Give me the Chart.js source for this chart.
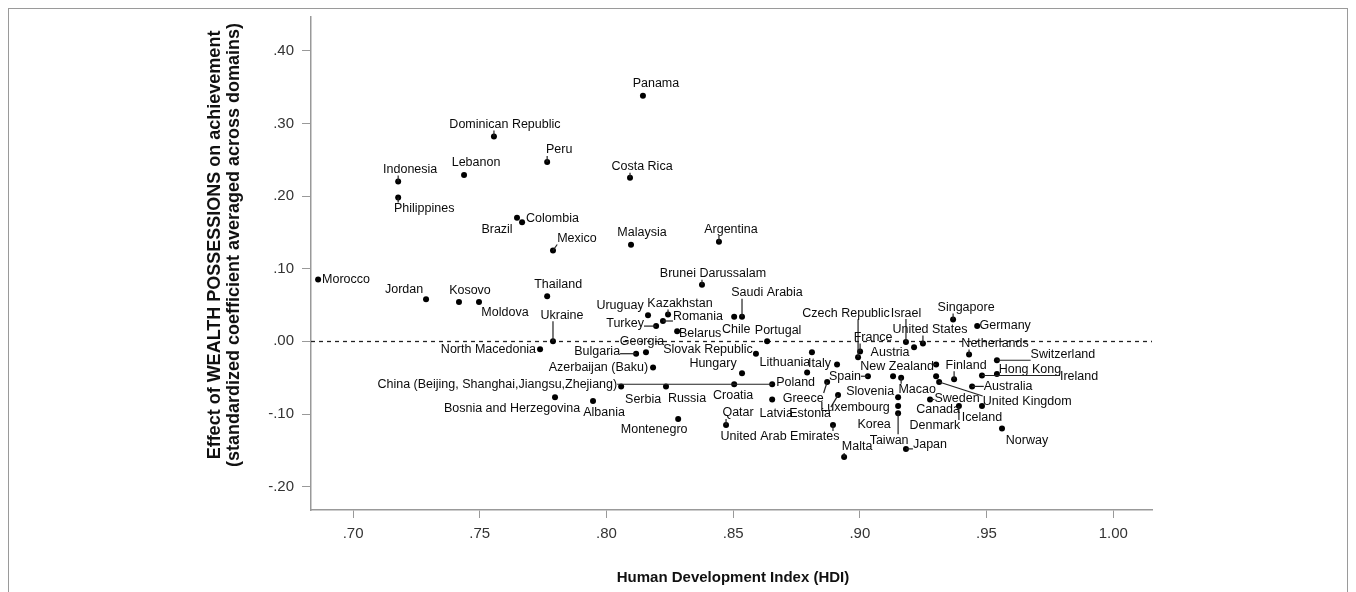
<!DOCTYPE html>
<html>
<head>
<meta charset="utf-8">
<script src="https://cdn.jsdelivr.net/npm/chart.js@4.4.0/dist/chart.umd.min.js"></script>
<style>
  html, body { margin: 0; padding: 0; background: #fff; }
  #wrap { position: relative; width: 1356px; height: 592px; }
</style>
</head>
<body>
<div id="wrap"><canvas id="ctx-hdi" width="1356" height="592"></canvas></div>
<script>
// values
const countries = [
  'Panama', 'Dominican Republic', 'Peru', 'Lebanon', 'Indonesia', 'Philippines',
  'Brazil', 'Colombia', 'Mexico', 'Costa Rica', 'Malaysia', 'Argentina',
  'Morocco', 'Jordan', 'Kosovo', 'Moldova', 'Thailand', 'Ukraine',
  'North Macedonia', 'Brunei Darussalam', 'Saudi Arabia', 'Chile', 'Uruguay', 'Kazakhstan',
  'Romania', 'Turkey', 'Belarus', 'Portugal', 'Georgia', 'Bulgaria',
  'Slovak Republic', 'Azerbaijan (Baku)', 'Hungary', 'Lithuania', 'Italy', 'Poland',
  'China (Beijing, Shanghai,Jiangsu,Zhejiang)', 'Serbia', 'Russia', 'Croatia', 'Bosnia and Herzegovina', 'Albania',
  'Montenegro', 'Qatar', 'Latvia', 'Greece', 'Estonia', 'United Arab Emirates',
  'Malta', 'Spain', 'Czech Republic', 'France', 'Israel', 'United States',
  'Austria', 'New Zealand', 'Slovenia', 'Macao', 'Luxembourg', 'Korea',
  'Canada', 'Sweden', 'Taiwan', 'Japan', 'Singapore', 'Germany',
  'Netherlands', 'Finland', 'Switzerland', 'Hong Kong', 'Ireland', 'Australia',
  'United Kingdom', 'Iceland', 'Denmark', 'Norway'
];
const hdi = [
  0.8144, 0.7556, 0.7766, 0.7438, 0.7178, 0.7178,
  0.7647, 0.7667, 0.7789, 0.8093, 0.8097, 0.8444,
  0.6862, 0.7288, 0.7418, 0.7497, 0.7766, 0.7789,
  0.7738, 0.8377, 0.8535, 0.8504, 0.8164, 0.8243,
  0.8223, 0.8196, 0.8279, 0.8634, 0.8156, 0.8117,
  0.8590, 0.8184, 0.8535, 0.8811, 0.8910, 0.8792,
  0.8654, 0.8058, 0.8235, 0.8504, 0.7797, 0.7947,
  0.8283, 0.8472, 0.8654, 0.8871, 0.8914, 0.8894,
  0.8938, 0.9032, 0.8993, 0.9001, 0.9182, 0.9249,
  0.9214, 0.9301, 0.9151, 0.9163, 0.9131, 0.9151,
  0.9301, 0.9277, 0.9151, 0.9182, 0.9368, 0.9463,
  0.9431, 0.9372, 0.9541, 0.9541, 0.9482, 0.9443,
  0.9313, 0.9482, 0.9391, 0.9561
];
const wealthEffect = [
  0.338, 0.282, 0.247, 0.229, 0.220, 0.198,
  0.170, 0.164, 0.125, 0.225, 0.133, 0.137,
  0.085, 0.058, 0.054, 0.054, 0.062, 0.000,
  -0.011, 0.078, 0.034, 0.034, 0.036, 0.037,
  0.028, 0.021, 0.014, 0.000, -0.015, -0.017,
  -0.017, -0.036, -0.044, -0.015, -0.032, -0.043,
  -0.059, -0.062, -0.062, -0.059, -0.077, -0.082,
  -0.107, -0.115, -0.080, -0.056, -0.074, -0.115,
  -0.159, -0.048, -0.022, -0.014, -0.001, -0.003,
  -0.008, -0.032, -0.077, -0.050, -0.048, -0.089,
  -0.048, -0.080, -0.099, -0.148, 0.030, 0.021,
  -0.018, -0.052, -0.026, -0.045, -0.047, -0.062,
  -0.056, -0.089, -0.089, -0.120
];
const xTicks = [0.70, 0.75, 0.80, 0.85, 0.90, 0.95, 1.00];
const yTicks = [-0.20, -0.10, 0.00, 0.10, 0.20, 0.30, 0.40];

// where each label sits relative to its point (px): dx, dy, align
const labelOffsets = {
  'Panama': [13, -12, 'c'], 'Dominican Republic': [11, -12, 'c'], 'Peru': [12, -12, 'c'],
  'Lebanon': [12, -12, 'c'], 'Indonesia': [12, -12, 'c'], 'Philippines': [26, 11, 'c'],
  'Brazil': [-20, 12, 'c'], 'Colombia': [4, -4, 'l'], 'Mexico': [24, -12, 'c'],
  'Costa Rica': [12, -11, 'c'], 'Malaysia': [11, -12, 'c'], 'Argentina': [12, -12, 'c'],
  'Morocco': [4, 0, 'l'], 'Jordan': [-22, -10, 'c'], 'Kosovo': [11, -12, 'c'],
  'Moldova': [26, 10, 'c'], 'Thailand': [11, -12, 'c'], 'Ukraine': [9, -26, 'c'],
  'North Macedonia': [-4, 0, 'r'], 'Brunei Darussalam': [11, -11, 'c'], 'Saudi Arabia': [25, -24, 'c'],
  'Chile': [2, 13, 'c'], 'Uruguay': [-28, -10, 'c'], 'Kazakhstan': [12, -11, 'c'],
  'Romania': [35, -4, 'c'], 'Turkey': [-31, -3, 'c'], 'Belarus': [23, 2, 'c'],
  'Portugal': [11, -11, 'c'], 'Georgia': [-4, -11, 'c'], 'Bulgaria': [-16, -2, 'r'],
  'Slovak Republic': [-48, -4, 'c'], 'Azerbaijan (Baku)': [-5, 0, 'r'], 'Hungary': [-29, -10, 'c'],
  'Lithuania': [-27, 10, 'c'], 'Italy': [-6, -1, 'r'], 'Poland': [-31, 10, 'l'],
  'China (Beijing, Shanghai,Jiangsu,Zhejiang)': [-155, 0, 'r'], 'Serbia': [22, 13, 'c'], 'Russia': [21, 12, 'c'],
  'Croatia': [-1, 11, 'c'], 'Bosnia and Herzegovina': [-43, 11, 'c'], 'Albania': [11, 12, 'c'],
  'Montenegro': [-24, 10, 'c'], 'Qatar': [12, -12, 'c'], 'Latvia': [4, 14, 'c'],
  'Greece': [-24, 17, 'c'], 'Estonia': [-28, 18, 'c'], 'United Arab Emirates': [-53, 12, 'c'],
  'Malta': [13, -10, 'c'], 'Spain': [-7, 0, 'r'], 'Czech Republic': [-12, -44, 'c'],
  'France': [13, -14, 'c'], 'Israel': [0, -29, 'c'], 'United States': [7, -14, 'c'],
  'Austria': [-24, 5, 'c'], 'New Zealand': [-39, 2, 'c'], 'Slovenia': [-28, -6, 'c'],
  'Macao': [16, 12, 'c'], 'Luxembourg': [-38, 31, 'c'], 'Korea': [-24, 19, 'c'],
  'Canada': [2, 33, 'c'], 'Sweden': [27, -1, 'c'], 'Taiwan': [-9, 27, 'c'],
  'Japan': [24, -4, 'c'], 'Singapore': [13, -12, 'c'], 'Germany': [28, -1, 'c'],
  'Netherlands': [26, -11, 'c'], 'Finland': [12, -14, 'c'], 'Switzerland': [66, -6, 'c'],
  'Hong Kong': [33, -5, 'c'], 'Ireland': [78, 1, 'l'], 'Australia': [36, 0, 'c'],
  'United Kingdom': [88, 20, 'c'], 'Iceland': [0, 12, 'c'], 'Denmark': [-24, 20, 'c'],
  'Norway': [25, 12, 'c']
};
const leaders = new Set([
  'Dominican Republic', 'Peru', 'Indonesia', 'Philippines', 'Mexico', 'Costa Rica', 'Argentina',
  'Ukraine', 'Brunei Darussalam', 'Saudi Arabia', 'Kazakhstan', 'Romania', 'Turkey', 'Bulgaria',
  'China (Beijing, Shanghai,Jiangsu,Zhejiang)', 'Qatar', 'Greece', 'Estonia', 'United Arab Emirates',
  'Malta', 'Spain', 'Czech Republic', 'France', 'Israel', 'United States', 'New Zealand', 'Macao',
  'Sweden', 'Taiwan', 'Japan', 'Singapore', 'Netherlands', 'Finland', 'Switzerland', 'Ireland',
  'Australia', 'United Kingdom', 'Denmark'
]);

const fmt = (v) => {
  let s = Math.abs(v).toFixed(2);
  if (s.startsWith('0')) s = s.slice(1);
  return (v < -0.0001 ? '-' : '') + s;
};

const zeroLine = {
  id: 'zeroLine',
  beforeDatasetsDraw(chart) {
    const { ctx, chartArea, scales: { y } } = chart;
    const py = Math.round(y.getPixelForValue(0)) + 0.5;
    ctx.save();
    ctx.strokeStyle = '#222';
    ctx.lineWidth = 1.3;
    ctx.setLineDash([4, 4]);
    ctx.beginPath();
    ctx.moveTo(chartArea.left, py);
    ctx.lineTo(chartArea.right, py);
    ctx.stroke();
    ctx.restore();
  }
};

const countryLabels = {
  id: 'countryLabels',
  afterDatasetsDraw(chart) {
    const { ctx, scales: { x, y } } = chart;
    ctx.save();
    ctx.font = '12.5px "Liberation Sans", Arial, sans-serif';
    ctx.textBaseline = 'middle';
    ctx.textAlign = 'left';
    ctx.fillStyle = '#0a0a0a';
    ctx.strokeStyle = '#222';
    ctx.lineWidth = 1.2;
    countries.forEach((name, i) => {
      const px = x.getPixelForValue(hdi[i]);
      const py = y.getPixelForValue(wealthEffect[i]);
      const [dx, dy, al] = labelOffsets[name] || [10, -12, 'c'];
      const w = ctx.measureText(name).width;
      const lx = px + dx;
      const left = al === 'l' ? lx : al === 'r' ? lx - w : lx - w / 2;
      const top = py + dy - 6, bottom = py + dy + 6;
      if (leaders.has(name)) {
        const cx = Math.min(Math.max(px, left), left + w);
        const cy = Math.min(Math.max(py, top), bottom);
        ctx.beginPath();
        ctx.moveTo(px, py);
        ctx.lineTo(cx, cy);
        ctx.stroke();
      }
      ctx.fillText(name, left, py + dy);
    });
    ctx.restore();
  }
};

const titles = {
  id: 'titles',
  afterDraw(chart) {
    const { ctx } = chart;
    ctx.save();
    ctx.strokeStyle = '#9a9a9a';
    ctx.lineWidth = 1;
    ctx.strokeRect(8.5, 8.5, 1339, 600);
    ctx.fillStyle = '#111';
    ctx.font = 'bold 15px "Liberation Sans", Arial, sans-serif';
    ctx.textAlign = 'center';
    ctx.textBaseline = 'middle';
    ctx.fillText('Human Development Index (HDI)', 733, 578);
    ctx.translate(225, 245);
    ctx.rotate(-Math.PI / 2);
    ctx.font = 'bold 18px "Liberation Sans", Arial, sans-serif';
    ctx.fillText('Effect of WEALTH POSSESSIONS on achievement', 0, -10);
    ctx.fillText('(standardized coefficient averaged across domains)', 0, 9);
    ctx.restore();
  }
};

const ctx = document.getElementById('ctx-hdi');
const points = countries.map((c, i) => ({ x: hdi[i], y: wealthEffect[i] }));

new Chart(ctx, {
  type: 'scatter',
  data: {
    datasets: [{
      label: 'countries',
      data: points,
      backgroundColor: '#000',
      borderWidth: 0,
      pointRadius: 3,
      pointHoverRadius: 3
    }]
  },
  options: {
    responsive: false,
    animation: false,
    events: [],
    layout: { padding: { top: 16, right: 204, left: 0, bottom: 0 } },
    plugins: { legend: { display: false }, tooltip: { enabled: false } },
    scales: {
      x: {
        type: 'linear',
        min: 0.6834,
        max: 1.0153,
        afterBuildTicks: (s) => { s.ticks = xTicks.map(v => ({ value: v })); },
        afterFit: (s) => { s.height = 82; },
        ticks: {
          callback: (v) => fmt(v),
          color: '#333',
          font: { size: 15, family: '"Liberation Sans", Arial, sans-serif' },
          padding: 7,
          maxRotation: 0
        },
        grid: { drawOnChartArea: false, drawTicks: true, tickLength: 8, color: '#999' },
        border: { display: true, color: '#999', width: 1.5 }
      },
      y: {
        type: 'linear',
        min: -0.2321,
        max: 0.4464,
        afterBuildTicks: (s) => { s.ticks = yTicks.map(v => ({ value: v })); },
        afterFit: (s) => { s.width = 311; },
        ticks: {
          callback: (v) => fmt(v),
          color: '#333',
          font: { size: 15, family: '"Liberation Sans", Arial, sans-serif' },
          padding: 8
        },
        grid: { drawOnChartArea: false, drawTicks: true, tickLength: 9, color: '#999' },
        border: { display: true, color: '#999', width: 1.5 }
      }
    }
  },
  plugins: [zeroLine, countryLabels, titles]
});
</script>
</body>
</html>
